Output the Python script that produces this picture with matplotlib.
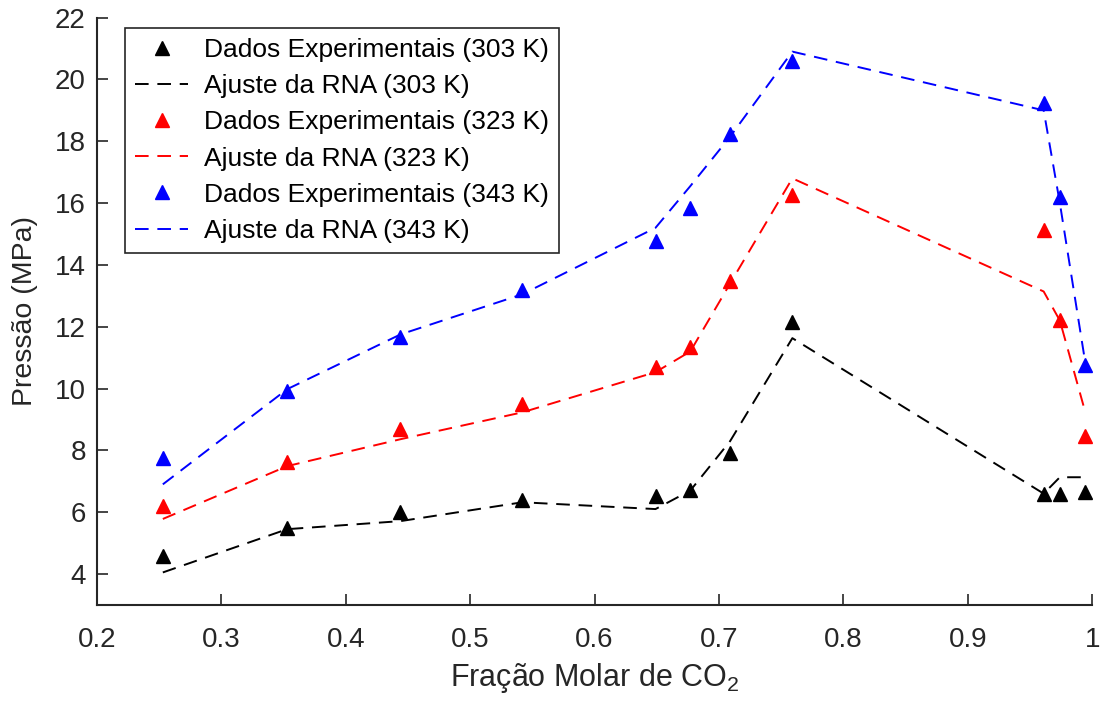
import matplotlib
matplotlib.use("Agg")
import matplotlib.pyplot as plt

plt.rcParams['font.family'] = ['Liberation Sans', 'DejaVu Sans']
plt.rcParams['mathtext.default'] = 'regular'

# fração molar de CO2 (mesmos pontos para as três temperaturas)
x_co2 = [0.253, 0.353, 0.444, 0.542, 0.649, 0.677, 0.709, 0.759, 0.961, 0.974, 0.994]

# pressões experimentais (MPa)
exp_303 = [4.58, 5.48, 6.00, 6.39, 6.52, 6.71, 7.90, 12.14, 6.58, 6.58, 6.65]
exp_323 = [6.20, 7.62, 8.68, 9.49, 10.69, 11.33, 13.47, 16.25, 15.12, 12.21, 8.46]
exp_343 = [7.75, 9.91, 11.66, 13.18, 14.76, 15.83, 18.22, 20.61, 19.25, 16.21, 10.75]

# ajuste da rede neural (MPa)
rna_303 = [4.05, 5.45, 5.71, 6.32, 6.10, 6.70, 8.30, 11.63, 6.60, 7.13, 7.13]
rna_323 = [5.78, 7.49, 8.36, 9.23, 10.53, 11.20, 13.40, 16.80, 13.14, 12.20, 9.30]
rna_343 = [6.90, 9.98, 11.75, 13.05, 15.20, 16.55, 18.15, 20.90, 19.00, 16.00, 10.95]

temps = ['303 K', '323 K', '343 K']
cores = ['k', 'r', 'b']
exp_all = [exp_303, exp_323, exp_343]
rna_all = [rna_303, rna_323, rna_343]

fig = plt.figure(figsize=(11.01, 7.05), dpi=100)
ax = fig.add_axes([0.088, 0.142, 0.904, 0.833])

for t, c, e, r in zip(temps, cores, exp_all, rna_all):
    ax.plot(x_co2, e, linestyle='none', marker='^', color=c, markersize=10,
            label='Dados Experimentais (%s)' % t)
    ax.plot(x_co2, r, linestyle='--', dashes=(7, 4.5), color=c, linewidth=1.4,
            label='Ajuste da RNA (%s)' % t)

ax.set_xlim(0.2, 1.0)
ax.set_ylim(3, 22)
ax.set_xticks([0.2, 0.3, 0.4, 0.5, 0.6, 0.7, 0.8, 0.9, 1.0])
ax.set_xticklabels(['0.2', '0.3', '0.4', '0.5', '0.6', '0.7', '0.8', '0.9', '1'])
ax.set_yticks(range(4, 23, 2))

grey = '#262626'
for s in ['top', 'right']:
    ax.spines[s].set_visible(False)
for s in ['left', 'bottom']:
    ax.spines[s].set_color(grey)
    ax.spines[s].set_linewidth(1.5)
ax.tick_params(direction='in', length=8, width=1.2, colors=grey, labelsize=20)
ax.tick_params(axis='x', pad=16)
ax.tick_params(axis='y', pad=8)

ax.set_xlabel('Fração Molar de CO$_2$', fontsize=22, color=grey, labelpad=6)
ax.set_ylabel('Pressão (MPa)', fontsize=20.5, color=grey, labelpad=12)

leg = ax.legend(loc='upper left', bbox_to_anchor=(0.028, 0.983), fontsize=19,
                frameon=True, fancybox=False, framealpha=1, edgecolor=grey,
                handlelength=2.0, handletextpad=0.6, labelspacing=0.46,
                borderpad=0.4, borderaxespad=0)
leg.get_frame().set_linewidth(1.2)

fig.savefig('out.png', dpi=100)
